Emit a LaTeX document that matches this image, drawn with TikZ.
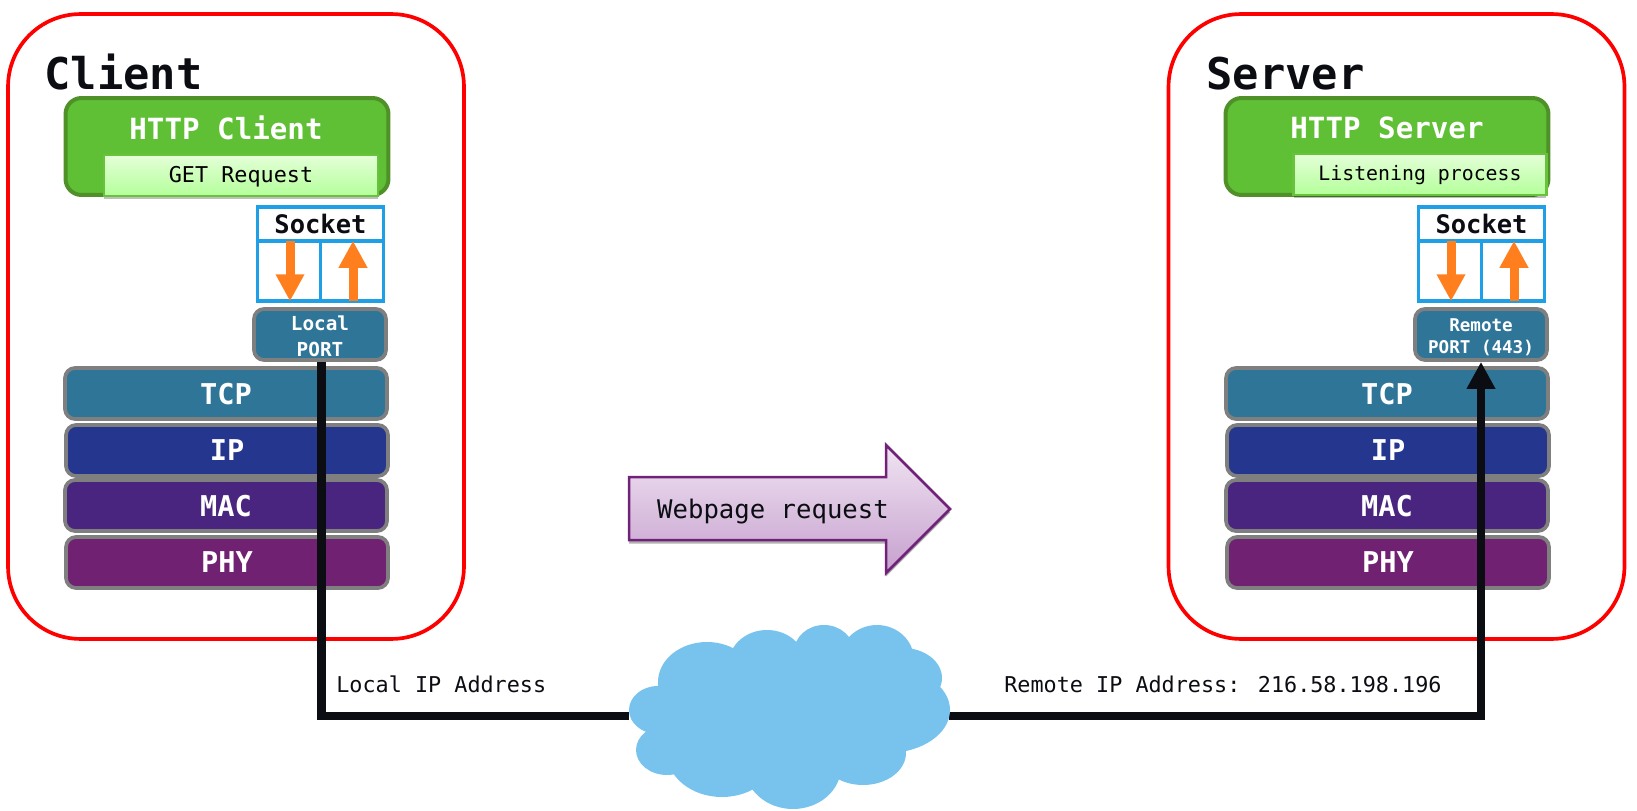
\documentclass[tikz,border=0pt]{standalone}
\usepackage{fontspec}
\setmainfont{DejaVu Sans Mono}
\usetikzlibrary{arrows.meta,shadows}

\definecolor{tcpcol}{HTML}{2E7598}
\definecolor{ipcol}{HTML}{25368E}
\definecolor{maccol}{HTML}{4A257F}
\definecolor{phycol}{HTML}{702172}
\definecolor{greycol}{HTML}{7F7F7F}
\definecolor{appcol}{HTML}{5FBF35}
\definecolor{appedge}{HTML}{4F9029}
\definecolor{subedge}{HTML}{69C23C}
\definecolor{subtop}{HTML}{E4FFD8}
\definecolor{subbot}{HTML}{B4FF9A}
\definecolor{sockcol}{HTML}{1F9FE6}
\definecolor{orangecol}{HTML}{FF7F1F}
\definecolor{inkcol}{HTML}{0B0D12}
\definecolor{cloudcol}{HTML}{77C3EE}
\definecolor{reqedge}{HTML}{6F2278}
\definecolor{reqtop}{HTML}{F0E4F2}
\definecolor{reqbot}{HTML}{C6A0CE}

\begin{document}
\begin{tikzpicture}
		[x=0.02cm, y=-0.02cm,
		hoststy/.style={draw=red, line width=0.074cm, rounded corners=1.45cm, minimum width=9.12cm, minimum height=12.5cm},
		titlesty/.style={anchor=base west, inner sep=0, text=inkcol, font=\fontsize{24.9}{28}\selectfont\bfseries},
		appsty/.style={draw=appedge, fill=appcol, line width=0.08cm, rounded corners=0.32cm, minimum width=6.46cm, minimum height=1.94cm},
		apptxt/.style={text=white, font=\fontsize{16.6}{20}\selectfont\bfseries},
		substy/.style={draw=subedge, line width=0.05cm, top color=subtop, bottom color=subbot, inner sep=0, text depth=0.05cm,
			minimum height=0.82cm, drop shadow={shadow xshift=0cm, shadow yshift=-0.06cm, opacity=0.25, fill=black}},
		socksty/.style={draw=sockcol, line width=0.075cm, inner sep=0, outer sep=0},
		sockhead/.style={socksty, minimum width=2.52cm, minimum height=0.67cm, text=inkcol, text depth=-0.08cm, font=\fontsize{14.5}{17}\selectfont\bfseries},
		sockcell/.style={socksty, minimum width=1.26cm, minimum height=1.21cm},
		flowsty/.style={draw=orangecol, line width=0.18cm, -{Triangle[width=0.54cm,length=0.54cm]}},
		portsty/.style={draw=greycol, fill=tcpcol, line width=0.074cm, rounded corners=0.2cm, text=white, inner sep=0, outer sep=0.037cm,
			align=center, minimum width=2.64cm, minimum height=1.02cm},
		layersty/.style={draw=greycol, line width=0.074cm, rounded corners=0.2cm, text=white, inner sep=0, text depth=-0.03cm,
			minimum width=6.44cm, minimum height=1.02cm, font=\fontsize{16.3}{20}\selectfont\bfseries},
		linksty/.style={draw=inkcol, line width=0.17cm},
		labelsty/.style={anchor=west, inner sep=0, text=inkcol, font=\fontsize{12.4}{15}\selectfont}]

		\node (host 1) at ( 236,326.5) [hoststy] {};
		\node (host 2) at (1396.5,326.5) [hoststy] {};
		\node (title 1) at (  44,89.5) [titlesty] {Client};
		\node (title 2) at (1206,89.5) [titlesty] {Server};

		\node (app 1) at ( 227,146.5) [appsty] {};
		\node (app 2) at (1387,146.5) [appsty] {};
		\node (apptxt 1) at ( 226,128) [apptxt] {HTTP Client};
		\node (apptxt 2) at (1387,128) [apptxt] {HTTP Server};
		\node (sub 1) at ( 241,175.5) [substy, minimum width=5.48cm, font=\fontsize{12.4}{15}\selectfont] {GET Request};
		\node (sub 2) at (1420,174.5) [substy, minimum width=5.06cm, font=\fontsize{11.3}{14}\selectfont] {Listening process};

		\node (sock 1) at ( 320.5,224) [sockhead] {Socket};
		\node (down 1) at ( 289,271) [sockcell] {};
		\node (up 1)   at ( 352,271) [sockcell] {};
		\node (sock 2) at (1481.5,224) [sockhead] {Socket};
		\node (down 2) at (1450,271) [sockcell] {};
		\node (up 2)   at (1513,271) [sockcell] {};

		\draw[flowsty] ([xshift=0.02cm]down 1.north) -- ([xshift=0.02cm]down 1.south);
		\draw[flowsty] ([xshift=0.02cm]up 1.south) -- ([xshift=0.02cm]up 1.north);
		\draw[flowsty] ([xshift=0.02cm]down 2.north) -- ([xshift=0.02cm]down 2.south);
		\draw[flowsty] ([xshift=0.02cm]up 2.south) -- ([xshift=0.02cm]up 2.north);

		\node (port 1) at ( 320,334.5) [portsty, font=\fontsize{11}{14.8}\selectfont\bfseries] {\rule{0pt}{10.3pt}Local\\PORT};
		\node (port 2) at (1481,334.5) [portsty, font=\fontsize{10}{12.5}\selectfont\bfseries] {\rule{0pt}{10.1pt}Remote\\PORT (443)};

		\node (tcp 1) at ( 226,393.5) [layersty, fill=tcpcol] {TCP};
		\node (ip 1)  at ( 227,450.5) [layersty, fill=ipcol] {IP};
		\node (mac 1) at ( 226,505.5) [layersty, fill=maccol] {MAC};
		\node (phy 1) at ( 227,562.5) [layersty, fill=phycol] {PHY};
		\node (tcp 2) at (1387,393.5) [layersty, fill=tcpcol] {TCP};
		\node (ip 2)  at (1388,450.5) [layersty, fill=ipcol] {IP};
		\node (mac 2) at (1387,505.5) [layersty, fill=maccol] {MAC};
		\node (phy 2) at (1388,562.5) [layersty, fill=phycol] {PHY};

		\draw[top color=reqtop, bottom color=reqbot, draw=reqedge, line width=0.05cm,
			drop shadow={shadow xshift=0cm, shadow yshift=-0.07cm, opacity=0.3, fill=black}]
			(629,477) -- (886,477) -- (886,445) -- (950,509) -- (886,573) -- (886,540) -- (629,540) -- cycle;
		\node (request) at (773,512) [text=inkcol, font=\fontsize{14.6}{17}\selectfont] {Webpage request};

		\node (cloud) at (789,716) [inner sep=0, outer sep=0, minimum width=6.4cm, minimum height=1cm] {};
		\node (local ip) at (336,684) [labelsty] {Local IP Address};
		\node (remote ip) at (1004,684) [labelsty] {Remote IP Address: 216.58.198.196};

		\draw[linksty] ([xshift=0.03cm]port 1.south) |- (cloud.west);
		\draw[linksty, -{Triangle[width=0.54cm,length=0.54cm]}] (cloud.east) -| (port 2.south);

		\fill[cloudcol]
			(707,682) ellipse (49 and 40)
			(767,663) ellipse (38 and 33)
			(824,652) ellipse (30 and 27)
			(877,660) ellipse (37 and 35)
			(903,678) ellipse (39 and 30)
			(887,710) ellipse (63 and 43)
			(863,753) ellipse (43 and 32)
			(793,767) ellipse (48 and 42)
			(722,753) ellipse (55 and 44)
			(667,750) ellipse (31 and 25)
			(658,710) ellipse (29 and 24)
			(787,713) ellipse (117 and 67);

		\useasboundingbox (0,0) rectangle (1637,811);
	\end{tikzpicture}
\end{document}
